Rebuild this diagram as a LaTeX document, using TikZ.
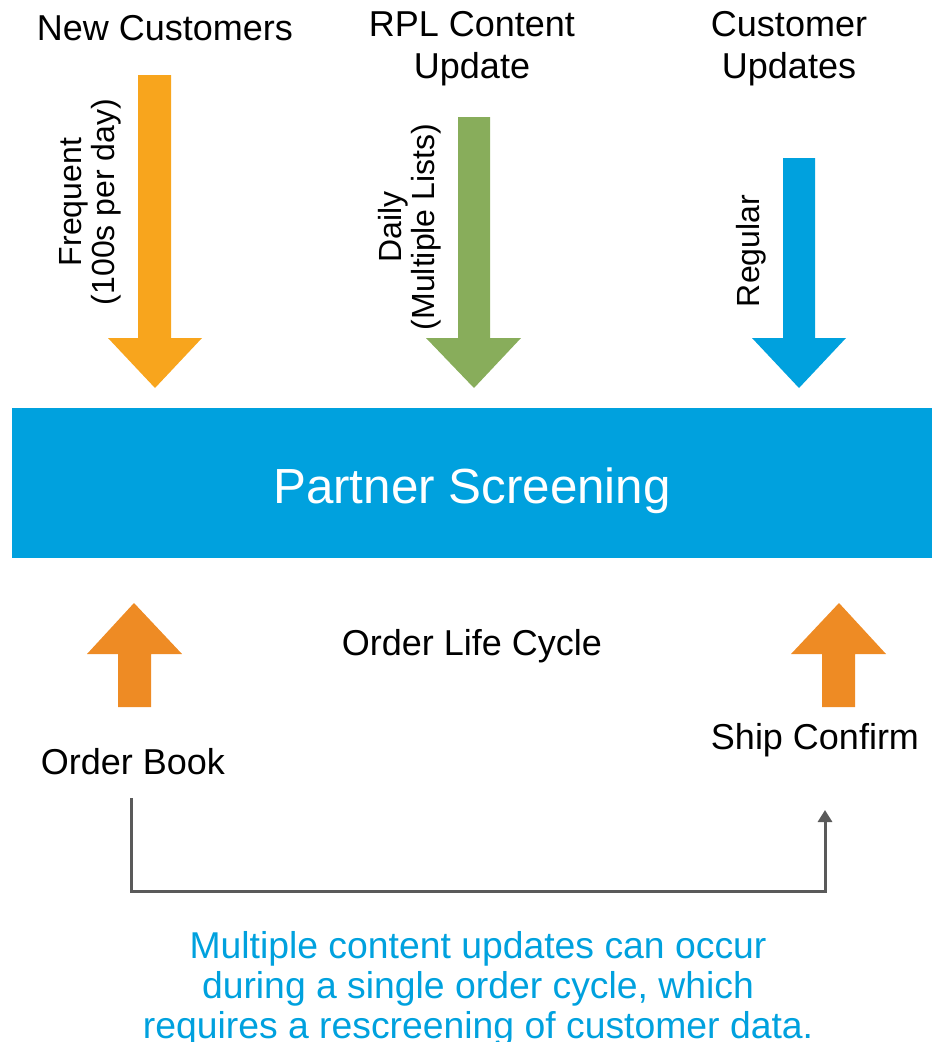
\documentclass[tikz,border=0pt]{standalone}
\usepackage{fontspec}
\setmainfont{Liberation Sans}
\usetikzlibrary{arrows.meta}
\definecolor{orangeA}{HTML}{F8A51D}
\definecolor{greenA}{HTML}{88AD5B}
\definecolor{blueA}{HTML}{00A1DE}
\definecolor{orangeB}{HTML}{EE8B24}
\definecolor{grayA}{HTML}{5A5A5A}
\definecolor{textblue}{HTML}{00A1DE}
\begin{document}
\begin{tikzpicture}[x=0.75pt,y=-0.75pt,
  title/.style={font=\fontsize{27}{31.5}\selectfont, align=center, inner sep=0pt},
  rotlabel/.style={font=\fontsize{24}{25}\selectfont, align=center, rotate=90, inner sep=0pt},
  mainbox/.style={fill=blueA, minimum width=690pt, minimum height=112.5pt, inner sep=0pt},
  boxtext/.style={text=white, font=\fontsize{37}{40}\selectfont, inner sep=0pt, yshift=-6pt},
  note/.style={font=\fontsize{28}{30}\selectfont, align=center, text=textblue, inner sep=0pt},
  conn/.style={draw=grayA, line width=2.25pt, -{Triangle[width=10.5pt,length=9pt]}}
]
\useasboundingbox (0,0) rectangle (932,1042);

% titles
\node[title] (nc) at (165,28) {New Customers};
\node[title] (rpl) at (472,49) {RPL Content\\Update};
\node[title] (cu) at (789,49) {Customer\\Updates};

% down arrows
\fill[orangeA] (138,75) -- (171,75) -- (171,338) -- (202,338) -- (155,388) -- (108,338) -- (138,338) -- cycle;
\fill[greenA] (458,117) -- (490,117) -- (490,338) -- (521,338) -- (474,388) -- (426,338) -- (458,338) -- cycle;
\fill[blueA] (783,158) -- (815,158) -- (815,338) -- (846,338) -- (799,388) -- (752,338) -- (783,338) -- cycle;

% rotated labels
\node[rotlabel] (freq) at (90,202) {Frequent\\(100s per day)};
\node[rotlabel] (daily) at (410,227) {Daily\\(Multiple Lists)};
\node[rotlabel] (reg) at (751,251) {Regular};

% main box
\node[mainbox, label={[boxtext]center:Partner Screening}] (ps) at (472,483) {};

% up arrows
\fill[orangeB] (118,707) -- (151,707) -- (151,654) -- (182,654) -- (134,603) -- (87,654) -- (118,654) -- cycle;
\fill[orangeB] (822,707) -- (855,707) -- (855,654) -- (886,654) -- (839,603) -- (791,654) -- (822,654) -- cycle;

\node[title] (olc) at (472,646) {Order Life Cycle};
\node[title] (ob) at (133,762) {Order Book};
\node[title] (sc) at (815,740) {Ship Confirm};

% connector
\coordinate (cstart) at (131,798);
\coordinate (cend) at (825,810);
\draw[conn] (cstart) -- ++(0,93) -| (cend);

% note
\node[note] (nt) at (478,989) {Multiple content updates can occur\\during a single order cycle, which\\requires a rescreening of customer data.};
\end{tikzpicture}
\end{document}
